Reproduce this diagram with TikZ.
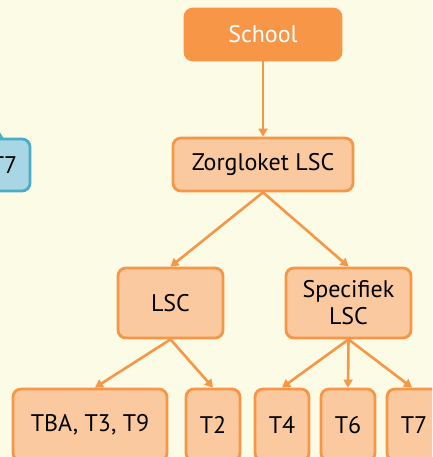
\documentclass[tikz,border=0pt]{standalone}
\usepackage{fontspec}
\setmainfont{PT Sans}
\usepackage{tikz}
\usetikzlibrary{arrows.meta,positioning,calc}

\definecolor{bg}{HTML}{FCFBE6}
\definecolor{oranje}{HTML}{F79646}
\definecolor{licht}{HTML}{FBC9A0}
\definecolor{blauw}{HTML}{4BACC6}
\definecolor{lichtblauw}{HTML}{A8D6E4}

\tikzset{
  box/.style={draw=oranje,fill=licht,line width=2.8pt,rounded corners=8pt,align=center,
    font=\fontsize{24}{27}\selectfont,inner sep=0pt},
  pijl/.style={draw=oranje,line width=2.6pt,-{Triangle[length=8pt,width=9pt]}}
}

\begin{document}
\begin{tikzpicture}[x=1pt,y=1pt]
  \useasboundingbox (0,0) rectangle (432,457);
  \clip (0,0) rectangle (432,457);
  \fill[bg] (0,0) rectangle (432,457);
  % blue box at the left
  \fill[lichtblauw,draw=blauw,line width=2.8pt] (-5,330) -- (3,317) -- (0,317) -- cycle;
  \node [box,draw=blauw,fill=lichtblauw,minimum width=52pt,minimum height=52pt] (blauwT7) at (4,292) {T7};
  % tree
  \node [box,fill=oranje,text=white,minimum width=156pt,minimum height=51pt] (school) at (263,422.5) {School};
  \node [box,minimum width=180pt,minimum height=53pt] (zorg) at (263,292.5) {Zorgloket LSC};
  \node [box,minimum width=105pt,minimum height=70pt] (lsc) at (170.5,154) {LSC};
  \node [box,minimum width=125pt,minimum height=70pt] (spec) at (348.5,154) {Specifiek\\LSC};
  \node [box,minimum width=154pt,minimum height=72pt] (tba) at (90,32) {TBA, T3, T9};
  \node [box,minimum width=54pt,minimum height=72pt] (t2) at (213,32) {T2};
  \node [box,minimum width=54pt,minimum height=72pt] (t4) at (282,32) {T4};
  \node [box,minimum width=54pt,minimum height=72pt] (t6) at (348,32) {T6};
  \node [box,minimum width=54pt,minimum height=72pt] (t7) at (414,32) {T7};
  \draw [pijl] (school) -- (zorg);
  \draw [pijl] (zorg.south) -- (lsc.north);
  \draw [pijl] (zorg.south) -- (spec.north);
  \draw [pijl] (lsc.south) -- ($(tba.north)+(5,0)$);
  \draw [pijl] (lsc.south) -- (t2.north);
  \draw [pijl] (spec.south) -- (t4.north);
  \draw [pijl] (spec.south) -- (t6.north);
  \draw [pijl] (spec.south) -- ($(t7.north)+(-2,0)$);
\end{tikzpicture}
\end{document}
